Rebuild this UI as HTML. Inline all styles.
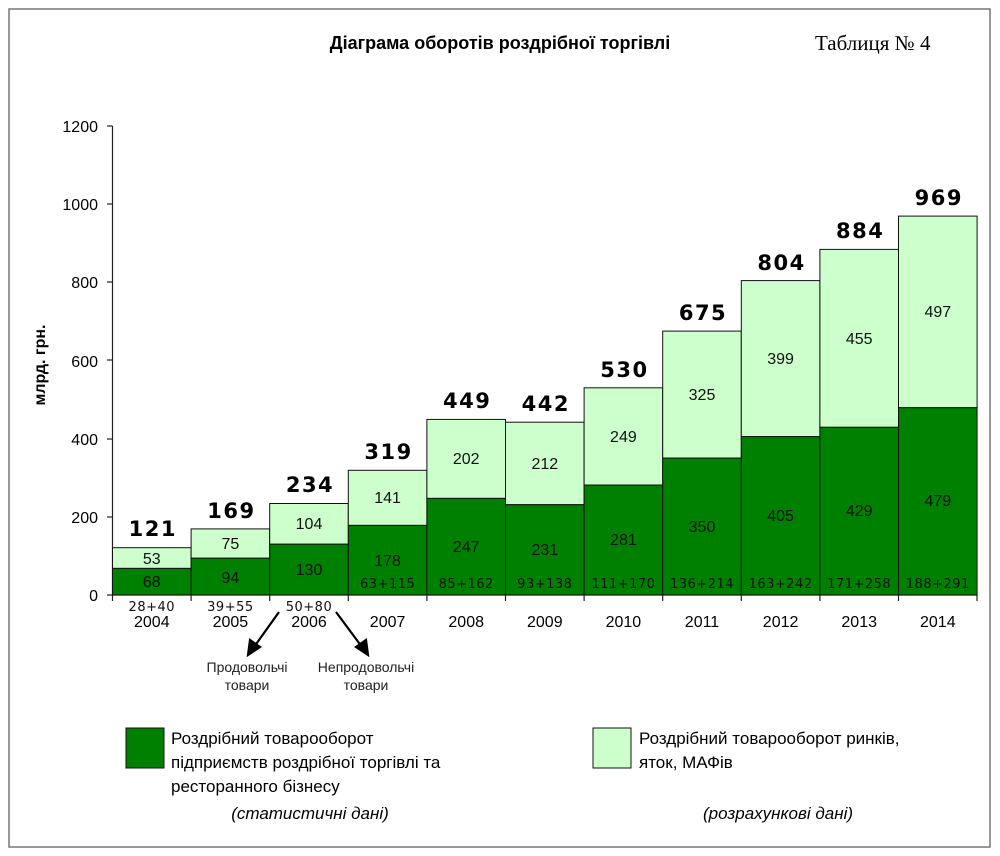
<!DOCTYPE html>
<html><head><meta charset="utf-8"><style>
body{margin:0;background:#fff}
svg{display:block;font-family:"Liberation Sans",sans-serif}
</style></head><body>
<svg width="1000" height="856" viewBox="0 0 1000 856" xmlns="http://www.w3.org/2000/svg">
<rect x="9" y="9" width="981" height="838" fill="none" stroke="#777" stroke-width="1.5"/>
<text x="500" y="49" text-anchor="middle" font-weight="bold" font-size="18">Діаграма оборотів роздрібної торгівлі</text>
<text x="815" y="50" font-family="Liberation Serif,serif" font-size="21">Таблиця № 4</text>
<text transform="translate(45,365) rotate(-90)" text-anchor="middle" font-weight="bold" font-size="16">млрд. грн.</text>
<g font-size="16" text-anchor="end">
<text x="98" y="601">0</text><text x="98" y="523">200</text><text x="98" y="445">400</text><text x="98" y="367">600</text><text x="98" y="288">800</text><text x="98" y="210">1000</text><text x="98" y="132">1200</text>
</g>
<g stroke="#222" stroke-width="1.2">
<line x1="112.5" y1="126" x2="112.5" y2="595"/>
<line x1="107" y1="595" x2="112.5" y2="595"/><line x1="107" y1="517" x2="112.5" y2="517"/><line x1="107" y1="439" x2="112.5" y2="439"/><line x1="107" y1="360" x2="112.5" y2="360"/><line x1="107" y1="282" x2="112.5" y2="282"/><line x1="107" y1="204" x2="112.5" y2="204"/><line x1="107" y1="126" x2="112.5" y2="126"/>
<line x1="112.5" y1="595" x2="977" y2="595"/>
<line x1="112.5" y1="595" x2="112.5" y2="601"/><line x1="191.1" y1="595" x2="191.1" y2="601"/><line x1="269.7" y1="595" x2="269.7" y2="601"/><line x1="348.3" y1="595" x2="348.3" y2="601"/><line x1="426.9" y1="595" x2="426.9" y2="601"/><line x1="505.5" y1="595" x2="505.5" y2="601"/><line x1="584.1" y1="595" x2="584.1" y2="601"/><line x1="662.7" y1="595" x2="662.7" y2="601"/><line x1="741.3" y1="595" x2="741.3" y2="601"/><line x1="819.9" y1="595" x2="819.9" y2="601"/><line x1="898.5" y1="595" x2="898.5" y2="601"/><line x1="977" y1="595" x2="977" y2="601"/>
</g>
<g stroke="#111" stroke-width="1">
<rect x="112.5" y="547.7" width="78.6" height="20.7" fill="#ccffcc"/><rect x="112.5" y="568.4" width="78.6" height="26.6" fill="#008000"/>
<rect x="191.1" y="528.9" width="78.6" height="29.3" fill="#ccffcc"/><rect x="191.1" y="558.2" width="78.6" height="36.8" fill="#008000"/>
<rect x="269.7" y="503.5" width="78.6" height="40.7" fill="#ccffcc"/><rect x="269.7" y="544.2" width="78.6" height="50.8" fill="#008000"/>
<rect x="348.3" y="470.3" width="78.6" height="55.1" fill="#ccffcc"/><rect x="348.3" y="525.4" width="78.6" height="69.6" fill="#008000"/>
<rect x="426.9" y="419.4" width="78.6" height="79" fill="#ccffcc"/><rect x="426.9" y="498.4" width="78.6" height="96.6" fill="#008000"/>
<rect x="505.5" y="422.2" width="78.6" height="82.5" fill="#ccffcc"/><rect x="505.5" y="504.7" width="78.6" height="90.3" fill="#008000"/>
<rect x="584.1" y="387.8" width="78.6" height="97.3" fill="#ccffcc"/><rect x="584.1" y="485.1" width="78.6" height="109.9" fill="#008000"/>
<rect x="662.7" y="331.1" width="78.6" height="127" fill="#ccffcc"/><rect x="662.7" y="458.1" width="78.6" height="136.9" fill="#008000"/>
<rect x="741.3" y="280.6" width="78.6" height="156" fill="#ccffcc"/><rect x="741.3" y="436.6" width="78.6" height="158.4" fill="#008000"/>
<rect x="819.9" y="249.4" width="78.6" height="177.9" fill="#ccffcc"/><rect x="819.9" y="427.3" width="78.6" height="167.7" fill="#008000"/>
<rect x="898.5" y="216.1" width="78.6" height="191.6" fill="#ccffcc"/><rect x="898.5" y="407.7" width="78.6" height="187.3" fill="#008000"/>
</g>
<g font-size="16" text-anchor="middle" fill="#111">
<text x="151.8" y="564">53</text><text x="151.8" y="587">68</text>
<text x="230.4" y="549">75</text><text x="230.4" y="583">94</text>
<text x="309" y="529">104</text><text x="309" y="575">130</text>
<text x="387.6" y="503">141</text><text x="387.6" y="566">178</text>
<text x="466.2" y="464">202</text><text x="466.2" y="552">247</text>
<text x="544.8" y="469">212</text><text x="544.8" y="555">231</text>
<text x="623.4" y="442">249</text><text x="623.4" y="545">281</text>
<text x="702" y="400">325</text><text x="702" y="532">350</text>
<text x="780.6" y="364">399</text><text x="780.6" y="521">405</text>
<text x="859.2" y="344">455</text><text x="859.2" y="516">429</text>
<text x="937.8" y="317">497</text><text x="937.8" y="506">479</text>
</g>
<g font-family="DejaVu Sans,sans-serif" font-size="13" text-anchor="middle" fill="#111" letter-spacing="0.5">
<text x="151.8" y="611">28+40</text><text x="230.4" y="611">39+55</text><text x="309" y="611">50+80</text>
<text x="387.6" y="588">63+115</text><text x="466.2" y="588">85+162</text><text x="544.8" y="588">93+138</text><text x="623.4" y="588">111+170</text><text x="702" y="588">136+214</text><text x="780.6" y="588">163+242</text><text x="859.2" y="588">171+258</text><text x="937.8" y="588">188+291</text>
</g>
<g font-family="DejaVu Sans,sans-serif" font-weight="bold" font-size="21" text-anchor="middle" letter-spacing="1.5">
<text x="152.8" y="536">121</text><text x="231.4" y="518">169</text><text x="310" y="492">234</text><text x="388.6" y="459">319</text><text x="467.2" y="408">449</text><text x="545.8" y="411">442</text><text x="624.4" y="377">530</text><text x="703" y="320">675</text><text x="781.6" y="270">804</text><text x="860.2" y="238">884</text><text x="938.8" y="205">969</text>
</g>
<g font-size="16" text-anchor="middle">
<text x="151.8" y="627">2004</text><text x="230.4" y="627">2005</text><text x="309" y="627">2006</text><text x="387.6" y="627">2007</text><text x="466.2" y="627">2008</text><text x="544.8" y="627">2009</text><text x="623.4" y="627">2010</text><text x="702" y="627">2011</text><text x="780.6" y="627">2012</text><text x="859.2" y="627">2013</text><text x="937.8" y="627">2014</text>
</g>
<g stroke="#000" stroke-width="2.2" fill="#000">
<line x1="279" y1="612" x2="254" y2="647"/><polygon points="248,655 250,640 260,647"/>
<line x1="336" y1="612" x2="362" y2="647"/><polygon points="368,655 356,647 366,640"/>
</g>
<g font-size="14" text-anchor="middle" fill="#222">
<text x="247" y="672">Продовольчі</text><text x="247" y="690">товари</text>
<text x="366" y="672">Непродовольчі</text><text x="366" y="690">товари</text>
</g>
<rect x="126" y="728" width="38" height="40" fill="#008000" stroke="#111"/>
<rect x="593" y="728" width="38" height="40" fill="#ccffcc" stroke="#111"/>
<g font-size="17">
<text x="171" y="744">Роздрібний товарооборот</text>
<text x="171" y="768">підприємств роздрібної торгівлі та</text>
<text x="171" y="792">ресторанного бізнесу</text>
<text x="310" y="819" text-anchor="middle" font-style="italic">(статистичні дані)</text>
<text x="639" y="744">Роздрібний товарооборот ринків,</text>
<text x="639" y="768">яток, МАФів</text>
<text x="778" y="819" text-anchor="middle" font-style="italic">(розрахункові дані)</text>
</g>
</svg>
</body></html>
